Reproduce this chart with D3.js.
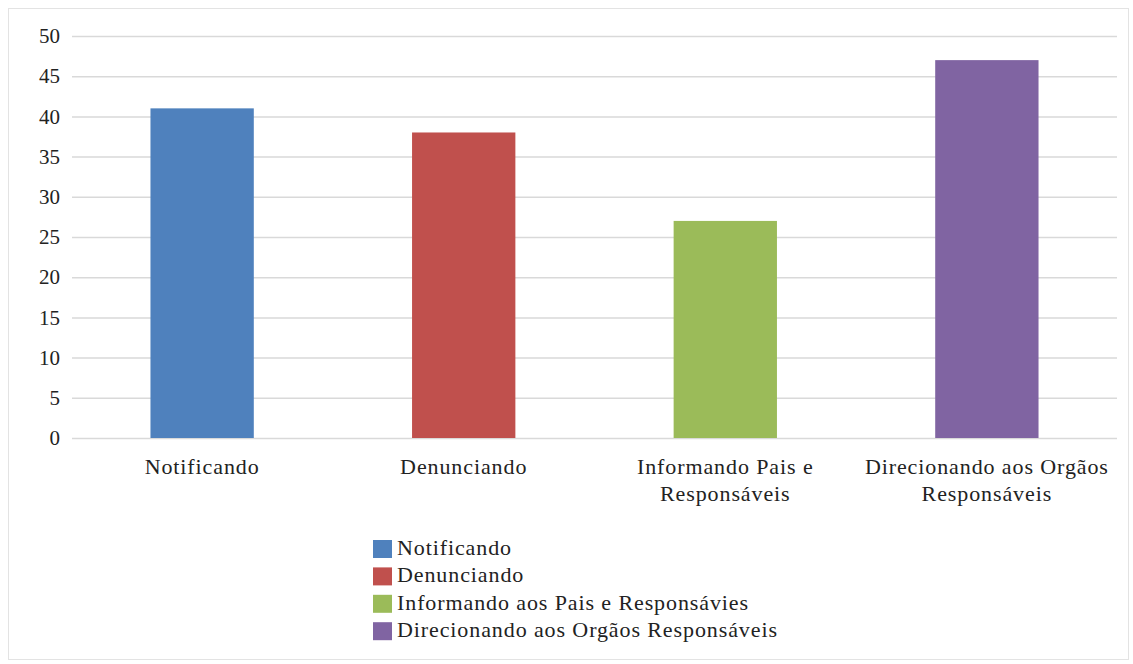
<!DOCTYPE html>
<html>
<head>
<meta charset="utf-8">
<script src="https://cdn.jsdelivr.net/npm/d3@7/dist/d3.min.js"></script>
<style>
  html, body { margin: 0; padding: 0; background: #fff; }
  svg { display: block; }
  text { font-family: "Liberation Serif", "Times New Roman", serif; fill: #222; }
</style>
</head>
<body>
<svg id="chart" width="1133" height="664"></svg>
<script>
// Categories (axis labels may wrap onto two lines)
const categories = [
  "Notificando",
  "Denunciando",
  "Informando Pais e Responsáveis",
  "Direcionando aos Orgãos Responsáveis"
];
const categoryLines = [
  ["Notificando"],
  ["Denunciando"],
  ["Informando Pais e", "Responsáveis"],
  ["Direcionando aos Orgãos", "Responsáveis"]
];
const values = [41, 38, 27, 47];
const legendLabels = [
  "Notificando",
  "Denunciando",
  "Informando aos Pais e Responsávies",
  "Direcionando aos Orgãos Responsáveis"
];
const colors = ["#4F81BD", "#C0504D", "#9BBB59", "#8064A2"];
const yTicks = [0, 5, 10, 15, 20, 25, 30, 35, 40, 45, 50];

const svg = d3.select("#chart");

// outer frame
svg.append("rect")
  .attr("x", 8.5).attr("y", 8.5)
  .attr("width", 1120).attr("height", 651)
  .attr("fill", "#fff")
  .attr("stroke", "#e3e3e3")
  .attr("stroke-width", 1);

const plot = { left: 72, right: 1117, top: 36, bottom: 438 };

const x = d3.scaleBand()
  .domain(categories)
  .range([plot.left, plot.right])
  .paddingInner(0.605)
  .paddingOuter(0.3);

const y = d3.scaleLinear()
  .domain([0, 50])
  .range([plot.bottom, plot.top]);

// gridlines + left tick labels via axis
const yAxis = d3.axisLeft(y)
  .tickValues(yTicks)
  .tickSize(-(plot.right - plot.left))
  .tickPadding(12);

const gy = svg.append("g")
  .attr("transform", `translate(${plot.left},0)`)
  .call(yAxis);
gy.attr("font-family", null);
gy.select(".domain").remove();
gy.selectAll(".tick line")
  .attr("stroke", "#d9d9d9")
  .attr("stroke-width", 1.5);
gy.selectAll(".tick text")
  .attr("font-size", 21)
  .attr("fill", "#222");

// bars
svg.append("g").selectAll("rect")
  .data(values)
  .join("rect")
  .attr("x", (d, i) => x(categories[i]))
  .attr("width", x.bandwidth())
  .attr("y", d => y(d))
  .attr("height", d => y(0) - y(d))
  .attr("fill", (d, i) => colors[i]);

// category labels
const gx = svg.append("g");
categoryLines.forEach((lines, i) => {
  const cx = x(categories[i]) + x.bandwidth() / 2;
  const t = gx.append("text")
    .attr("x", cx)
    .attr("y", plot.bottom + 36)
    .attr("text-anchor", "middle")
    .attr("font-size", 22)
    .style("letter-spacing", "0.9px");
  lines.forEach((ln, j) => {
    t.append("tspan")
      .attr("x", cx)
      .attr("dy", j === 0 ? 0 : 27)
      .text(ln);
  });
});

// legend
const legend = svg.append("g").attr("transform", "translate(373,540)");
legendLabels.forEach((lab, i) => {
  const row = legend.append("g").attr("transform", `translate(0,${i * 27.4})`);
  row.append("rect")
    .attr("x", 0).attr("y", 0)
    .attr("width", 19).attr("height", 18)
    .attr("fill", colors[i]);
  row.append("text")
    .attr("x", 24)
    .attr("y", 15)
    .attr("font-size", 22)
    .style("letter-spacing", "0.9px")
    .text(lab);
});
</script>
</body>
</html>
